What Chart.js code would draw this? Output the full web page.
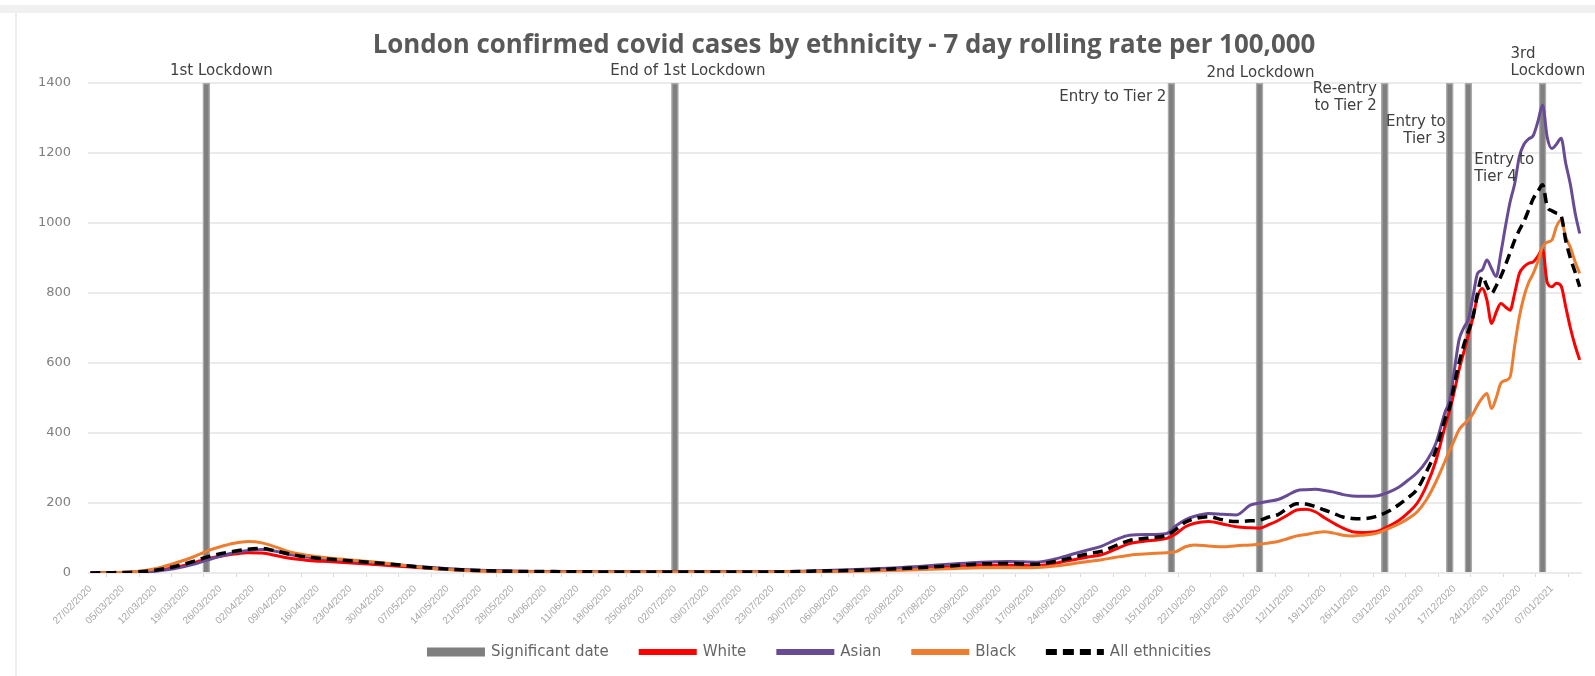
<!DOCTYPE html>
<html>
<head>
<meta charset="utf-8">
<script src="https://cdn.jsdelivr.net/npm/chart.js@4.4.1/dist/chart.umd.min.js"></script>
<style>
html,body{margin:0;padding:0;background:#fff;}
#wrap{width:1595px;height:676px;position:relative;}
canvas{display:block;}
</style>
</head>
<body>
<div id="wrap"><canvas id="c" width="1595" height="676"></canvas></div>
<script>
// ---------- data ----------
const chartTitle = 'London confirmed covid cases by ethnicity - 7 day rolling rate per 100,000';

// weekly x-axis tick labels (day 0 = 27/02/2020)
const tickLabels = ['27/02/2020','05/03/2020','12/03/2020','19/03/2020','26/03/2020','02/04/2020','09/04/2020','16/04/2020',
  '23/04/2020','30/04/2020','07/05/2020','14/05/2020','21/05/2020','28/05/2020','04/06/2020','11/06/2020','18/06/2020',
  '25/06/2020','02/07/2020','09/07/2020','16/07/2020','23/07/2020','30/07/2020','06/08/2020','13/08/2020','20/08/2020',
  '27/08/2020','03/09/2020','10/09/2020','17/09/2020','24/09/2020','01/10/2020','08/10/2020','15/10/2020','22/10/2020',
  '29/10/2020','05/11/2020','12/11/2020','19/11/2020','26/11/2020','03/12/2020','10/12/2020','17/12/2020','24/12/2020',
  '31/12/2020','07/01/2021'];
const tickDays = [0,7,14,21,28,35,42,49,56,63,70,77,84,91,98,105,112,119,126,133,140,147,154,161,168,175,182,189,196,
  203,210,217,224,231,238,245,252,259,266,273,280,287,294,301,308,315];

// significant dates (days since 27/02/2020)
const sigDays = [25, 126, 233, 252, 279, 293, 297, 313];
const sigNames = ['1st Lockdown', 'End of 1st Lockdown', 'Entry to Tier 2', '2nd Lockdown',
  'Re-entry\nto Tier 2', 'Entry to\nTier 3', 'Entry to\nTier 4', '3rd\nLockdown'];
const sigHeight = 1400;

const days = [0,5,10,14,18,22,25,28,31,34,37,40,43,47,52,58,65,72,80,90,100,115,130,145,155,165,175,185,192,198,204,208,212,215,218,
  221,224,228,232,234,236,238,241,244,247,250,252,254,256,258,260,262,264,266,268,270,272,274,277,280,282,284,286,288,290,292,
  293,294,295,296,297,298,299,300,301,302,303,304,305,306,307,308,309,310,311,312,313,314,315,316,317,318,319,320,321];

const white = [0,1,3,7,15,28,40,48,54,58,57,50,42,36,32,27,21,14,8,5,4,3,3,3,4,7,11,17,22,22,21,28,38,46,52,
  68,84,92,99,112,132,142,147,140,132,129,128,138,150,165,180,182,175,158,142,128,118,116,118,135,150,172,200,250,320,420,
  466,520,580,630,680,730,790,813,780,713,745,770,760,751,800,856,875,885,889,905,925,830,818,828,820,760,700,650,609];

const asian = [0,1,2,5,12,24,36,48,58,64,67,62,53,45,39,33,25,17,10,6,4,4,4,4,6,10,16,25,31,33,31,40,55,66,77,
  95,108,110,113,135,152,162,170,168,166,194,200,205,210,222,235,238,239,236,231,224,220,219,220,232,245,265,287,320,370,460,
  494,580,666,700,725,790,856,866,894,870,847,913,990,1060,1113,1190,1225,1240,1250,1290,1337,1245,1213,1225,1242,1170,1110,1030,970];

const blackEth = [0,1,4,12,27,45,62,75,85,90,86,74,60,50,42,35,26,15,8,4,3,3,3,3,4,5,8,12,15,15,16,20,27,33,38,
  45,51,55,58,61,75,80,77,75,78,80,82,86,90,98,106,110,115,118,114,108,106,108,113,128,140,155,175,210,260,320,
  351,380,409,425,437,455,480,500,513,470,500,542,550,560,650,732,790,830,856,890,932,945,951,990,1009,960,930,890,856];

const allEth = [0,1,3,8,18,32,45,55,62,68,70,63,54,45,39,33,25,16,9,5,4,3,3,3,5,8,13,20,26,27,25,33,45,55,62,
  78,93,100,108,125,145,155,161,152,147,149,151,160,167,185,198,197,190,180,170,160,156,155,161,178,195,215,240,290,350,440,
  475,540,600,650,690,732,800,847,820,799,820,847,880,915,951,980,1005,1037,1070,1090,1109,1047,1035,1028,1020,950,900,860,818];

// ---------- styles ----------
const sigLabelStyle = [
  {align:'center', dx:15, dy:-12},
  {align:'center', dx:13, dy:-12},
  {align:'right',  dx:-5, dy:14},
  {align:'center', dx:1,  dy:-10},
  {align:'right',  dx:-8, dy:6},
  {align:'right',  dx:-4, dy:39},
  {align:'left',   dx:6,  dy:77},
  {align:'left',   dx:-32, dy:-29}
];

const pts = arr => days.map((d, i) => ({x: d, y: arr[i]}));

const datasets = [
  {type:'bar', label:'Significant date', data: sigDays.map(d => ({x: d, y: sigHeight})),
   backgroundColor:'#808080', borderColor:'#ababab', borderWidth:1.5, barThickness:7, order:10,
   legendStyle:{lw:9, dash:[]}},
  {type:'line', label:'White', data: pts(white), borderColor:'#ff0000', borderWidth:3, order:4,
   legendStyle:{lw:6, dash:[]}},
  {type:'line', label:'Asian', data: pts(asian), borderColor:'#674b94', borderWidth:3, order:3,
   legendStyle:{lw:6, dash:[]}},
  {type:'line', label:'Black', data: pts(blackEth), borderColor:'#ed7d31', borderWidth:3, order:2,
   legendStyle:{lw:6, dash:[]}},
  {type:'line', label:'All ethnicities', data: pts(allEth), borderColor:'#000000', borderWidth:3.5,
   borderDash:[10,6], order:1, legendStyle:{lw:6, dash:[11,6]}}
];
datasets.forEach(ds => { if (ds.type === 'line') { ds.pointRadius = 0; ds.cubicInterpolationMode = 'monotone'; ds.fill = false; } });

const framePlugin = {
  id:'frame',
  beforeDraw(chart){
    const ctx = chart.ctx;
    ctx.save();
    ctx.fillStyle = '#ffffff';
    ctx.fillRect(0,0,chart.width,chart.height);
    ctx.fillStyle = '#f0f0f0';
    ctx.fillRect(0,5,chart.width,8);
    ctx.strokeStyle = '#eeeeee';
    ctx.lineWidth = 2;
    ctx.beginPath(); ctx.moveTo(16,13); ctx.lineTo(16,chart.height); ctx.stroke();
    ctx.restore();
  }
};

const textPlugin = {
  id:'texts',
  afterDraw(chart){
    const ctx = chart.ctx, area = chart.chartArea, xs = chart.scales.x;
    ctx.save();
    // title, sized to the reference width
    ctx.font = '700 100px "Open Sans", "DejaVu Sans", sans-serif';
    const tSize = Math.round(100 * 944 / ctx.measureText(chartTitle).width * 10) / 10;
    ctx.font = '700 ' + tSize + 'px "Open Sans", "DejaVu Sans", sans-serif';
    ctx.fillStyle = '#595959';
    ctx.textAlign = 'center';
    ctx.textBaseline = 'middle';
    ctx.fillText(chartTitle, 844, 46);
    // significant date labels
    ctx.font = '15px "DejaVu Sans", sans-serif';
    ctx.fillStyle = '#404040';
    sigDays.forEach((d, i) => {
      const st = sigLabelStyle[i];
      const x = xs.getPixelForValue(d) + st.dx;
      ctx.textAlign = st.align;
      sigNames[i].split('\n').forEach((line, k) => {
        ctx.fillText(line, x, area.top + st.dy + k * 17);
      });
    });
    // legend
    ctx.font = '15px "DejaVu Sans", sans-serif';
    ctx.textAlign = 'left';
    const sw = 58, gap = 6, spacing = 30;
    const widths = datasets.map(ds => sw + gap + ctx.measureText(ds.label).width);
    const total = widths.reduce((a,b)=>a+b,0) + spacing * (datasets.length - 1);
    let x = 819 - total / 2;
    const y = 652;
    datasets.forEach((ds, i) => {
      ctx.save();
      ctx.strokeStyle = ds.type === 'bar' ? '#7f7f7f' : ds.borderColor;
      ctx.lineWidth = ds.legendStyle.lw;
      ctx.setLineDash(ds.legendStyle.dash);
      ctx.beginPath(); ctx.moveTo(x, y); ctx.lineTo(x + sw, y); ctx.stroke();
      ctx.restore();
      ctx.fillStyle = '#666666';
      ctx.fillText(ds.label, x + sw + gap, y);
      x += widths[i] + spacing;
    });
    ctx.restore();
  }
};

new Chart(document.getElementById('c'), {
  type:'line',
  data:{ datasets },
  options:{
    responsive:false,
    animation:false,
    devicePixelRatio:1,
    layout:{ padding:{ left:0, right:13, top:83, bottom:43 } },
    plugins:{ legend:{display:false}, title:{display:false}, tooltip:{enabled:false} },
    scales:{
      x:{
        type:'linear', min:-0.5, max:321.5, offset:false,
        border:{display:false},
        grid:{ drawOnChartArea:false, drawTicks:true, tickLength:4, color:'#d9d9d9' },
        afterBuildTicks(scale){ scale.ticks = tickDays.map(v => ({value:v})); },
        afterFit(scale){ scale.height = 60; },
        ticks:{
          autoSkip:false, maxRotation:45, minRotation:45, padding:6,
          color:'#a6a6a6', font:{ family:'"Liberation Sans", sans-serif', size:10 },
          callback(value, index){ return tickLabels[index]; }
        }
      },
      y:{
        min:0, max:1400,
        border:{display:false},
        grid:{ color:'#ebebeb', lineWidth:2, drawTicks:false },
        afterFit(scale){ scale.width = 88; },
        ticks:{ stepSize:200, padding:17, color:'#7f7f7f', font:{ family:'"DejaVu Sans", sans-serif', size:13 },
          callback(value){ return String(value); } }
      }
    }
  },
  plugins:[framePlugin, textPlugin]
});
</script>
</body>
</html>
